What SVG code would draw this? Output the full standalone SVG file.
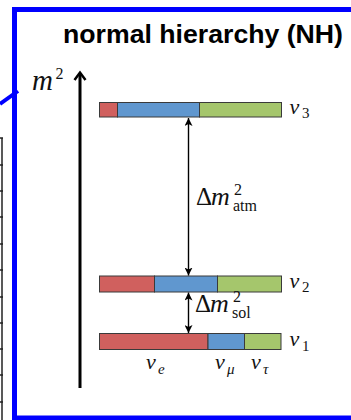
<svg xmlns="http://www.w3.org/2000/svg" width="351" height="420" viewBox="0 0 351 420">
<style>
.bar{stroke:#3a3a3a;stroke-width:1}
.r{fill:#d0605e}.b{fill:#6097cf}.g{fill:#a5c66c}
.math{font-family:"Liberation Serif","DejaVu Serif",serif;font-style:italic;fill:#111}
.rm{font-family:"Liberation Serif","DejaVu Serif",serif;font-style:normal;fill:#111}
.tbl{stroke:#222;stroke-width:1.5;fill:none}
.conn{stroke:#000;stroke-width:1.4;fill:none}
</style>
<defs>
<marker id="ah" viewBox="0 0 10 10" refX="10" refY="5" markerWidth="8" markerHeight="8" markerUnits="userSpaceOnUse" orient="auto-start-reverse">
<path d="M0,0 L10,5 L0,10 L2.5,5 Z" fill="#000"/>
</marker>
</defs>
<rect width="351" height="420" fill="#fff"/>
<g id="left-table">
<line class="tbl" x1="2" y1="138" x2="2" y2="420"/>
<path class="tbl" d="M0,138H3M0,165H3M0,191H3M0,217H3M0,244H3M0,270H3M0,297H3M0,323H3M0,349H3M0,375H3M0,402H3"/>
</g>
<g id="frame">
<line x1="0" y1="104" x2="18" y2="91" stroke="#0000ff" stroke-width="4"/>
<rect x="14.5" y="9.5" width="360" height="408.5" fill="none" stroke="#0000ff" stroke-width="5"/>
</g>
<g id="title">
<text x="63" y="43" font-family="'Liberation Sans',Arial,sans-serif" font-weight="bold" font-size="26.5" textLength="280" lengthAdjust="spacingAndGlyphs" fill="#000">normal hierarchy (NH)</text>
</g>
<g id="axis">
<line x1="80" y1="73" x2="80" y2="388" stroke="#000" stroke-width="3"/>
<path d="M74.5,80 L80,72.5 L85.5,80" fill="none" stroke="#000" stroke-width="2.5" stroke-linejoin="miter"/>
<text class="math" x="32" y="89.5" font-size="29">m</text>
<text class="rm" x="55.5" y="79" font-size="16">2</text>
</g>
<g id="nu3">
<rect class="bar r" x="99.5" y="102.5" width="18" height="14.5"/>
<rect class="bar b" x="117.5" y="102.5" width="82" height="14.5"/>
<rect class="bar g" x="199.5" y="102.5" width="82" height="14.5"/>
<text class="math" x="289.5" y="113.5" font-size="22">ν</text>
<text class="rm" x="302" y="118" font-size="15">3</text>
</g>
<g id="nu2">
<rect class="bar r" x="99.5" y="276" width="55" height="16"/>
<rect class="bar b" x="154.5" y="276" width="63" height="16"/>
<rect class="bar g" x="217.5" y="276" width="64" height="16"/>
<text class="math" x="289.5" y="287.5" font-size="22">ν</text>
<text class="rm" x="302" y="292" font-size="15">2</text>
</g>
<g id="nu1">
<rect class="bar r" x="99.5" y="333.5" width="108.5" height="16"/>
<rect class="bar b" x="208" y="333.5" width="36.5" height="16"/>
<rect class="bar g" x="244.5" y="333.5" width="36.5" height="16"/>
<text class="math" x="289.5" y="346" font-size="22">ν</text>
<text class="rm" x="302" y="350.5" font-size="15">1</text>
</g>
<g id="flavours">
<text class="math" x="146" y="369" font-size="22">ν</text>
<text class="math" x="158" y="373.5" font-size="15">e</text>
<text class="math" x="215" y="369" font-size="22">ν</text>
<text class="math" x="227" y="373.5" font-size="15">μ</text>
<text class="math" x="251" y="369" font-size="22">ν</text>
<text class="math" x="263" y="373.5" font-size="15">τ</text>
</g>
<g id="connectors">
<line class="conn" x1="188.5" y1="118" x2="188.5" y2="275.5" marker-start="url(#ah)" marker-end="url(#ah)"/>
<line class="conn" x1="188.5" y1="292.5" x2="188.5" y2="333" marker-start="url(#ah)" marker-end="url(#ah)"/>
</g>
<g id="label-atm">
<text class="rm" x="196" y="205" font-size="25">Δ</text>
<text class="math" x="211" y="205" font-size="26">m</text>
<text class="rm" x="234" y="195" font-size="16">2</text>
<text class="rm" x="233" y="211" font-size="16">atm</text>
</g>
<g id="label-sol">
<text class="rm" x="195" y="311.5" font-size="25">Δ</text>
<text class="math" x="210" y="311.5" font-size="26">m</text>
<text class="rm" x="233" y="301.5" font-size="16">2</text>
<text class="rm" x="232" y="318" font-size="16">sol</text>
</g>
</svg>
